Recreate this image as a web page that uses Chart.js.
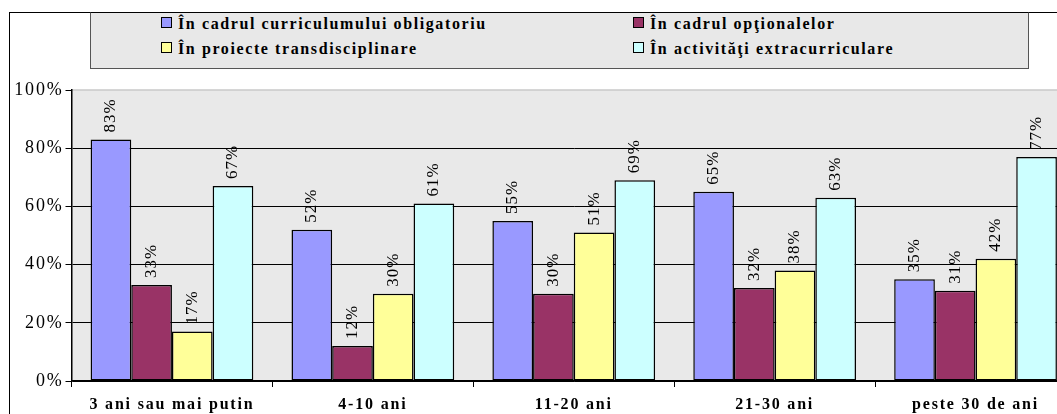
<!DOCTYPE html>
<html>
<head>
<meta charset="utf-8">
<script src="https://cdn.jsdelivr.net/npm/chart.js@4/dist/chart.umd.min.js"></script>
<style>
    html, body { margin: 0; padding: 0; background: #fff; overflow: hidden; }
    #wrap { position: relative; width: 1057px; height: 414px; overflow: hidden; }
    #frame { position: absolute; left: 9px; top: 12px; width: 1100px; height: 420px; border-left: 1px solid #000; border-top: 1px solid #000; }
    #legend { position: absolute; left: 90px; top: 12px; width: 939px; height: 57px; background: #e8e8e8; border: 1px solid #555; border-top: 1px solid #000; box-sizing: border-box; font-family: "Liberation Serif", "Times New Roman", serif; font-weight: bold; font-size: 16px; letter-spacing: 1.6px; color: #000; }
    .item { position: absolute; white-space: nowrap; line-height: 18px; }
    .box { display: inline-block; width: 9px; height: 9px; border: 1px solid #000; margin-right: 6px; vertical-align: 1px; }
    #c { position: absolute; left: 0; top: 0; }
</style>
</head>
<body>
<div id="wrap">
    <div id="frame"></div>
    <canvas id="c" width="1076" height="414" style="width:1076px;height:414px"></canvas>
    <div id="legend"></div>
</div>
<script>
const categories = ['3 ani sau mai putin', '4-10 ani', '11-20 ani', '21-30 ani', 'peste 30 de ani'];
const seriesNames = ['În cadrul curriculumului obligatoriu', 'În cadrul opţionalelor', 'În proiecte transdisciplinare', 'În activităţi extracurriculare'];
const seriesColors = ['#9999ff', '#993366', '#ffff99', '#ccffff'];
const obligatoriu = [83, 52, 55, 65, 35];
const optionale = [33, 12, 30, 32, 31];
const transdisciplinare = [17, 30, 51, 38, 42];
const extracurriculare = [67, 61, 69, 63, 77];
const yTicks = [0, 20, 40, 60, 80, 100];

const allValues = [obligatoriu, optionale, transdisciplinare, extracurriculare];
const serif = '"Liberation Serif", "Times New Roman", serif';

// legend in two columns, same order as the reference
const legend = document.getElementById('legend');
const legendPos = [[70, 2], [542, 2], [70, 27], [542, 27]];
seriesNames.forEach((name, i) => {
    const d = document.createElement('div');
    d.className = 'item';
    d.style.left = legendPos[i][0] + 'px';
    d.style.top = legendPos[i][1] + 'px';
    d.innerHTML = '<span class="box" style="background:' + seriesColors[i] + '"></span>' + name;
    legend.appendChild(d);
});

// grey plot background + light top line of plot
const plotBg = {
    id: 'plotBg',
    beforeDraw(chart) {
        const { ctx, chartArea: a } = chart;
        ctx.save();
        ctx.fillStyle = '#e9e9e9';
        ctx.fillRect(a.left, a.top, a.right - a.left, a.bottom - a.top);
        ctx.strokeStyle = '#c8c8c8';
        ctx.lineWidth = 1.5;
        ctx.beginPath();
        ctx.moveTo(a.left, a.top);
        ctx.lineTo(a.right, a.top);
        ctx.stroke();
        ctx.restore();
        ctx.letterSpacing = '1.8px';
    },
    afterDraw(chart) {
        chart.ctx.letterSpacing = '0px';
    }
};

// rotated value labels above bars
const valueLabels = {
    id: 'valueLabels',
    afterDatasetsDraw(chart) {
        const ctx = chart.ctx;
        ctx.save();
        ctx.letterSpacing = '1px';
        ctx.font = '17px ' + serif;
        ctx.fillStyle = '#000';
        ctx.textAlign = 'left';
        ctx.textBaseline = 'middle';
        chart.data.datasets.forEach((ds, i) => {
            chart.getDatasetMeta(i).data.forEach((bar, j) => {
                ctx.save();
                ctx.translate(bar.x, bar.y - 7);
                ctx.rotate(-Math.PI / 2);
                ctx.fillText(ds.data[j] + '%', 0, 0);
                ctx.restore();
            });
        });
        ctx.restore();
    }
};

new Chart(document.getElementById('c'), {
    type: 'bar',
    data: {
        labels: categories,
        datasets: allValues.map((vals, i) => ({
            label: seriesNames[i],
            data: vals,
            backgroundColor: seriesColors[i],
            borderColor: '#000',
            borderWidth: 1.5,
            borderSkipped: false,
            categoryPercentage: 0.81,
            barPercentage: 1.0
        }))
    },
    options: {
        responsive: false,
        animation: false,
        layout: { padding: { top: 90, left: 0, right: 0, bottom: 0 } },
        plugins: { legend: { display: false }, tooltip: { enabled: false } },
        scales: {
            y: {
                min: 0,
                max: 100,
                afterBuildTicks(scale) { scale.ticks = yTicks.map(v => ({ value: v })); },
                afterFit(scale) { scale.width = 71.5; },
                grid: {
                    color: ctx => ctx.tick && ctx.tick.value === 100 ? 'rgba(0,0,0,0)' : '#000',
                    tickColor: '#000',
                    tickLength: 6,
                    lineWidth: 1
                },
                border: { display: true, color: '#000', width: 1.5 },
                ticks: {
                    color: '#000',
                    padding: 2,
                    font: { family: serif, size: 18 },
                    callback: v => v + '%'
                }
            },
            x: {
                afterFit(scale) { scale.height = 33; },
                grid: {
                    drawOnChartArea: false,
                    drawTicks: true,
                    tickLength: 6,
                    color: '#000',
                    offset: true
                },
                border: { display: true, color: '#000', width: 1.5 },
                ticks: {
                    color: '#000',
                    padding: 8,
                    maxRotation: 0,
                    autoSkip: false,
                    font: { family: serif, size: 16, weight: 'bold' }
                }
            }
        }
    },
    plugins: [plotBg, valueLabels]
});
</script>
</body>
</html>
